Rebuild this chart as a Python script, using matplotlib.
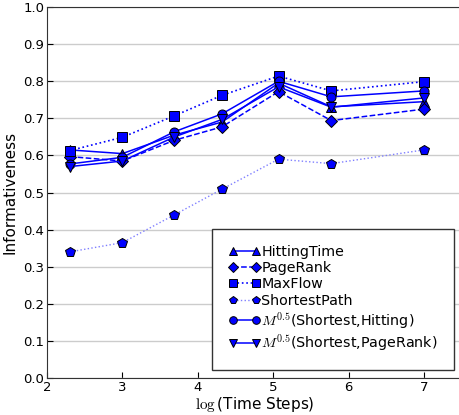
import matplotlib
matplotlib.use('Agg')
import matplotlib.pyplot as plt

plt.rcParams['mathtext.fontset'] = 'cm'
plt.rcParams['font.family'] = 'DejaVu Sans'

# log(time steps)
steps = [2.3, 3.0, 3.69, 4.32, 5.07, 5.77, 7.0]

hitting = [0.615, 0.605, 0.655, 0.690, 0.795, 0.731, 0.745]
pagerank = [0.597, 0.585, 0.641, 0.677, 0.772, 0.694, 0.725]
maxflow = [0.613, 0.649, 0.707, 0.762, 0.814, 0.774, 0.799]
shortest = [0.340, 0.365, 0.440, 0.509, 0.590, 0.578, 0.615]
m_sh_hit = [0.577, 0.595, 0.664, 0.712, 0.800, 0.758, 0.774]
m_sh_pr = [0.570, 0.585, 0.650, 0.697, 0.785, 0.730, 0.755]

fig = plt.figure(figsize=(4.6, 4.15), dpi=100)
ax = fig.add_axes([0.102, 0.089, 0.902, 0.894])

ax.yaxis.grid(True, color='#cccccc', lw=1)
ax.set_axisbelow(True)

mk = dict(ms=6.5, mec='black', mew=0.7, mfc='blue')
ax.plot(steps, hitting, '-', color='blue', marker='^', lw=1.1, label='HittingTime', **mk)
ax.plot(steps, pagerank, '--', color='blue', marker='D', lw=1.1, label='PageRank', **dict(mk, ms=6))
ax.plot(steps, maxflow, ':', color='blue', marker='s', lw=1.2, label='MaxFlow', **mk)
ax.plot(steps, shortest, ':', color='#7f7fff', marker='p', lw=1.0, label='ShortestPath', **dict(mk, ms=7.5))
ax.plot(steps, m_sh_hit, '-', color='blue', marker='o', lw=1.1,
        label=r'$M^{0.5}$(Shortest,Hitting)', **mk)
ax.plot(steps, m_sh_pr, '-', color='blue', marker='v', lw=1.1,
        label=r'$M^{0.5}$(Shortest,PageRank)', **mk)

ax.set_xlim(2, 7.5)
ax.set_ylim(0, 1.0)
ax.set_xticks([2, 3, 4, 5, 6, 7])
ax.set_yticks([i / 10 for i in range(11)])
ax.set_yticklabels(['%.1f' % (i / 10) for i in range(11)])
ax.tick_params(direction='in', labelsize=9.5, length=4, pad=2)
for s in ax.spines.values():
    s.set_color('#333333')

ax.set_xlabel(r'$\log$(Time Steps)', fontsize=11, labelpad=1)
ax.set_ylabel('Informativeness', fontsize=11, labelpad=4)

leg = ax.legend(loc='lower right', numpoints=2, fontsize=10.3, handlelength=2.2,
                handletextpad=0.1, labelspacing=0.15, borderpad=1.15,
                borderaxespad=0, fancybox=False, framealpha=1, edgecolor='#333333',
                bbox_to_anchor=(0.982, 0.022))
leg.get_frame().set_linewidth(1.0)
for h in leg.legend_handles:
    h.set_markersize(5.5)

fig.savefig('out.png', dpi=100)
